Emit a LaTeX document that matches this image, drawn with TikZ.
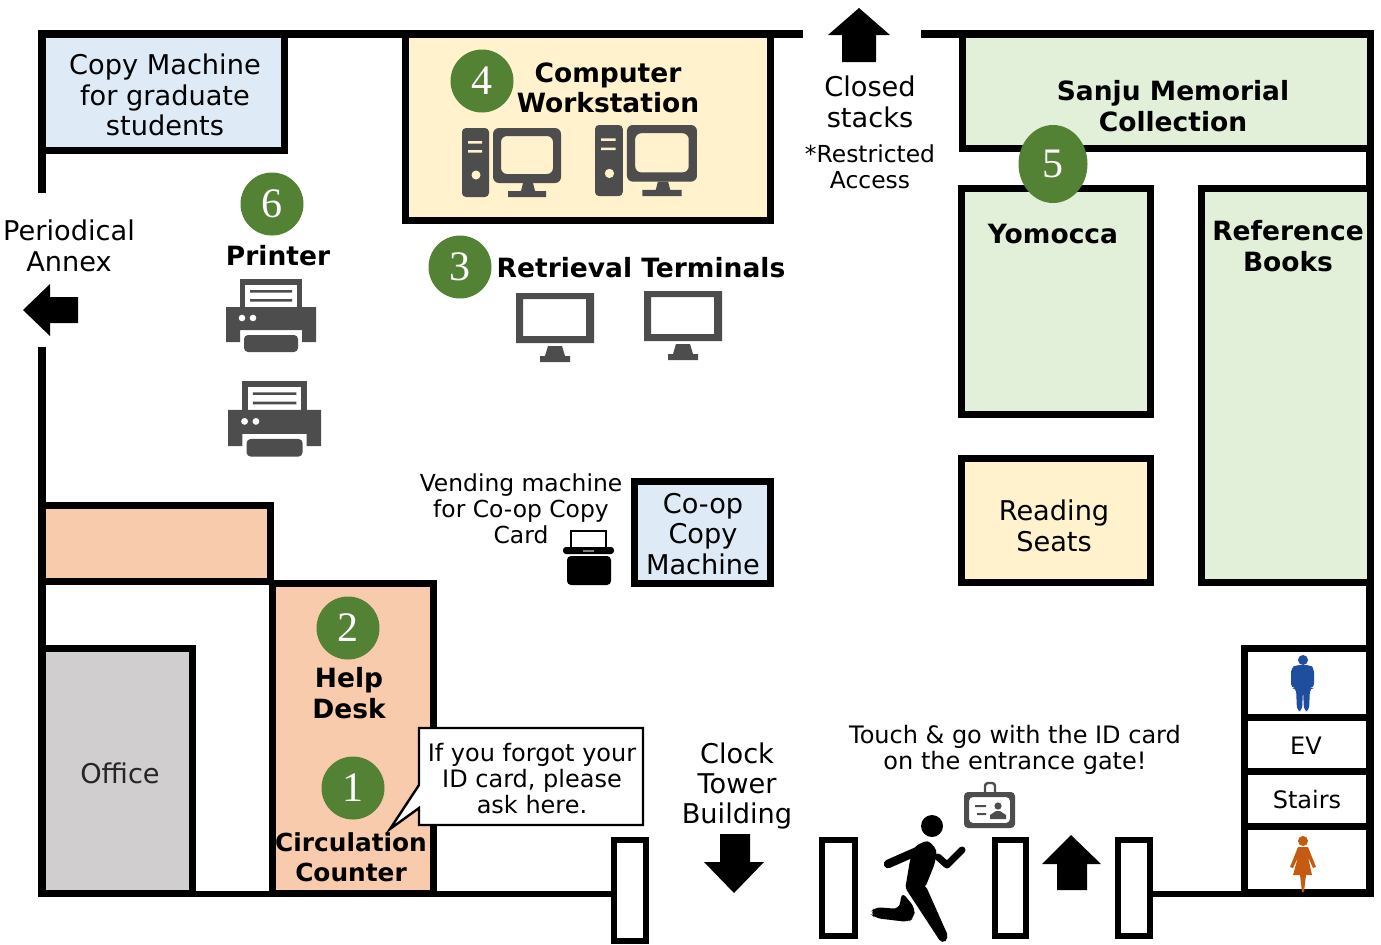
\documentclass[tikz,border=0pt]{standalone}
\usepackage{fontspec}
\usetikzlibrary{shapes.geometric}
\setmainfont{DejaVu Sans}
\newfontfamily\numfont{Liberation Serif}
\definecolor{roomblue}{HTML}{DEEAF6}
\definecolor{roomyellow}{HTML}{FFF2CC}
\definecolor{roomgreen}{HTML}{E2EFD9}
\definecolor{roomorange}{HTML}{F8CBAD}
\definecolor{roomgray}{HTML}{D0CECE}
\definecolor{numgreen}{HTML}{548235}
\definecolor{icongray}{HTML}{4D4D4D}
\definecolor{manblue}{HTML}{1F4E9E}
\definecolor{womanorange}{HTML}{C55A11}
\tikzset{
  wall/.style={line width=4pt, draw=black},
  room/.style={line width=3.5pt, draw=black, line join=miter},
  gate/.style={line width=3pt, draw=black, fill=white},
  txt/.style={inner sep=0pt, align=center, font=\fontsize{13.6}{15.2}\selectfont},
  smalltxt/.style={inner sep=0pt, align=center, font=\fontsize{12}{13}\selectfont},
  tinytxt/.style={inner sep=0pt, align=center, font=\fontsize{11.7}{13}\selectfont},
  boldtxt/.style={inner sep=0pt, align=center, font=\fontsize{13.25}{15.2}\selectfont\bfseries},
  numcirc/.style={circle, fill=numgreen, text=white, inner sep=0pt, minimum size=31.5pt, font=\fontsize{21}{21}\numfont},
  workst/.pic={
    \fill[icongray, rounded corners=2pt] (0,0) rectangle (27,69);
    \fill[roomyellow] (6,13) rectangle (20,15.5) (6,22) rectangle (20,24.5) (14,47) circle (4.5);
    \fill[icongray, even odd rule, rounded corners=3pt] (31,0) rectangle (99,55) (39,8) rectangle (91,46);
    \fill[icongray] (61,55) -- (71,55) -- (73,63) -- (84,63) -- (84,69) -- (46,69) -- (46,63) -- (59,63) -- cycle;
  },
  retmon/.pic={
    \fill[icongray, even odd rule] (0,0) rectangle (78,50) (7,6) rectangle (70,43);
    \fill[icongray] (32,53) -- (46,53) -- (49,63) -- (54,63) -- (54,69) -- (24,69) -- (24,63) -- (29,63) -- cycle;
  },
  printer/.pic={
    \fill[icongray] (14,0) rectangle (76,30);
    \fill[white] (19,6) rectangle (71,28);
    \fill[icongray] (24,11) rectangle (66,13.5) (24,20) rectangle (66,22.5);
    \fill[icongray] (0,28) -- (90,28) -- (90,63) -- (76,63) -- (76,51) -- (14,51) -- (14,63) -- (0,63) -- cycle;
    \fill[icongray, rounded corners=2pt] (18,56) rectangle (72,73);
    \fill[white] (16,39) circle (3.3) (27,39) circle (3.3);
  }
}
\begin{document}
\begin{tikzpicture}[x=0.5pt, y=-0.5pt]
 \useasboundingbox (0,0) rectangle (1381,944);

 % outer walls
 \draw[wall] (42,193) -- (42,34) -- (803,34);
 \draw[wall] (921,34) -- (1370,34) -- (1370,893) -- (1244,893);
 \draw[wall] (42,347) -- (42,893);
 \draw[line width=3.3pt] (38,894) -- (614,894);
 \draw[line width=3.3pt] (1150,894) -- (1244,894);

 % rooms
 \foreach \xa/\ya/\xb/\yb/\c in {42/34/284/150/roomblue, 405/34/770/220/roomyellow,
    962/34/1370/148/roomgreen, 961/188/1150/414/roomgreen, 1201/188/1370/582/roomgreen,
    961/458/1150/582/roomyellow, 634/481/770/583/roomblue, 42/505/270/581/roomorange,
    272/583/433/893/roomorange, 42/648/192/893/roomgray} {
   \draw[room, fill=\c] (\xa,\ya) rectangle (\xb,\yb);
 }
 \foreach \ya/\yb in {648/717, 717/771, 771/826, 826/893} {
   \draw[room] (1244,\ya) rectangle (1370,\yb);
 }
 \foreach \xa/\ya/\xb/\yb in {614/840/646/941, 822/840/855/936, 995/840/1026/936, 1118/840/1150/936} {
   \draw[gate] (\xa,\ya) rectangle (\xb,\yb);
 }

 % arrows
 \fill (859,8) -- (890,35) -- (876,35) -- (876,62) -- (842,62) -- (842,35) -- (828,35) -- cycle;
 \fill (23,310) -- (50,284) -- (50,297) -- (78,297) -- (78,323) -- (50,323) -- (50,336) -- cycle;
 \fill (734,893) -- (764,862) -- (750,862) -- (750,834) -- (720,834) -- (720,862) -- (704,862) -- cycle;
 \fill (1071,835) -- (1101,864) -- (1087,864) -- (1087,890) -- (1057,890) -- (1057,864) -- (1042,864) -- cycle;

 % labels
 \node[txt] (copygrad) at (165,95) {Copy Machine\\for graduate\\students};
 \node[boldtxt] (workstation) at (608,88) {Computer\\Workstation};
 \node[txt] (closed) at (870,102) {Closed\\stacks};
 \node[tinytxt] (restricted) at (870,167) {*Restricted\\Access};
 \node[boldtxt] (sanju) at (1173,106) {Sanju Memorial\\Collection};
 \node[boldtxt] (yomocca) at (1053,234) {Yomocca};
 \node[boldtxt] (reference) at (1288,246) {Reference\\Books};
 \node[txt] (annex) at (69,246) {Periodical\\Annex};
 \node[boldtxt] (printerlabel) at (278,256) {Printer};
 \node[boldtxt] (retrieval) at (641,268) {Retrieval Terminals};
 \node[tinytxt] (vending) at (521,509) {Vending machine\\for Co-op Copy\\Card};
 \node[txt] (coop) at (703,534) {Co-op\\Copy\\Machine};
 \node[txt] (seats) at (1054,526) {Reading\\Seats};
 \node[boldtxt] (helpdesk) at (349,693) {Help\\Desk};
 \node[boldtxt, font=\fontsize{12.4}{15}\selectfont\bfseries] (counter) at (351,857) {Circulation\\Counter};
 \node[txt, text=black!85] (office) at (120,773) {Office};
 \node[txt] (clock) at (737,786) {Clock\\Tower\\Building};
 \node[smalltxt] (touch) at (1015,750) {Touch \& go with the ID card\\on the entrance gate!};
 \node[smalltxt] (ev) at (1306,746) {EV};
 \node[smalltxt] (stairs) at (1307,800) {Stairs};

 % callout
 \draw[fill=white, line width=1.2pt] (419,728) -- (643,728) -- (643,825) -- (419,825) -- (419,808) -- (390,829) -- (419,785) -- cycle;
 \node[smalltxt] (forgot) at (532,779) {If you forgot your\\ID card, please\\ask here.};

 % number circles
 \node[numcirc] (n4) at (482,81) {4};
 \node[numcirc] (n3) at (460,267) {3};
 \node[numcirc] (n6) at (272,204) {6};
 \node[numcirc] (n2) at (348,628) {2};
 \node[numcirc] (n1) at (353,788) {1};
 \node[numcirc, ellipse, minimum width=34.5pt, minimum height=39pt] (n5) at (1053,164) {5};

 % icons
 \pic at (462,128) {workst};
 \pic[scale=1.03] at (595,125) {workst};
 \pic at (516,293) {retmon};
 \pic at (644,291) {retmon};
 \pic at (226,279) {printer};
 \pic[scale=1.035] at (228,381) {printer};

 % vending machine
 \draw[line width=1pt, fill=white] (571,548) -- (571,531) -- (606,531) -- (606,548);
 \fill[rounded corners=1.5pt] (563,547) rectangle (614,554);
 \fill[gray] (583,549.5) rectangle (594,551.5);
 \fill[rounded corners=2pt] (567,556) rectangle (611,585);

 % id card
 \draw[icongray, line width=1.2pt, fill=white, rounded corners=1.5pt] (985,794) -- (985,783) -- (995,783) -- (995,794);
 \fill[icongray, rounded corners=2pt, even odd rule] (964,792) rectangle (1015,828) (969,797) rectangle (1010,823);
 \fill[icongray] (998,806) circle (3.6);
 \fill[icongray] (990,819) -- (990,815) -- (996,811) -- (1000,811) -- (1006,815) -- (1006,819) -- cycle;
 \fill[icongray] (975,805) rectangle (986,807) (977,813) rectangle (986,815);

 % runner
 \fill (932,826) circle (11);
 \draw[line width=4.3pt, line cap=round] (922,849) -- (888,864);
 \fill[rounded corners=2pt] (915,846) -- (928,840) -- (937,850) -- (935,863) -- (925,888) -- (905,890) -- (910,860) -- cycle;
 \fill[rounded corners=3pt] (902,892) -- (915,908) -- (914,918) -- (908,922) -- (875,918) -- (870,913) -- (875,907) -- (899,909) -- cycle;
 \fill[rounded corners=2.5pt] (904,886) -- (925,884) -- (949,938) -- (942,944) -- cycle;
 \draw[white, line width=0.5pt] (904,890) -- (917,909);
 \draw[line width=3.5pt, line cap=round, line join=round] (938,857) -- (947,865) -- (962,850);

 % man
 \fill[manblue] (1303,660) circle (5);
 \fill[manblue, rounded corners=2pt] (1291,688) -- (1291,668) -- (1296,665) -- (1310,665) -- (1314,668) -- (1314,688) -- (1310,688) -- (1309,711) -- (1304,711) -- (1303,690) -- (1302,711) -- (1297,711) -- (1296,688) -- cycle;

 % woman
 \fill[womanorange] (1303,841) circle (5);
 \fill[womanorange] (1298,847) -- (1308,847) -- (1316,867) -- (1313,868) -- (1308,857) -- (1312,875) -- (1306,875) -- (1304,892) -- (1302,892) -- (1300,875) -- (1293,875) -- (1298,857) -- (1293,868) -- (1290,867) -- cycle;
\end{tikzpicture}
\end{document}
